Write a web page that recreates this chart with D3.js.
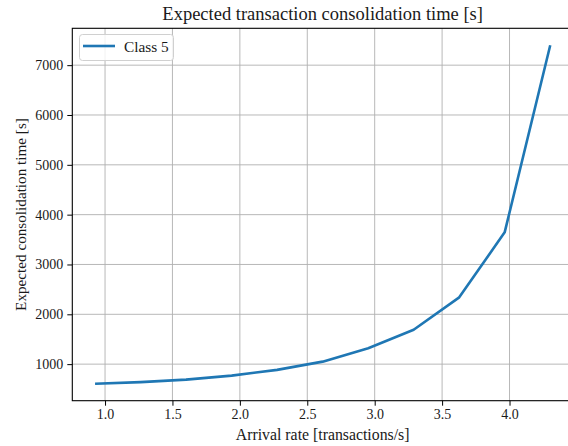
<!DOCTYPE html>
<html>
<head>
<meta charset="utf-8">
<script src="https://cdn.jsdelivr.net/npm/d3@7/dist/d3.min.js"></script>
<style>
  html, body { margin: 0; padding: 0; background: #fff; overflow: hidden; }
  svg { display: block; }
  text { font-family: "Palatino Linotype", "Book Antiqua", Palatino, "Liberation Serif", serif; fill: #1a1a1a; }
</style>
</head>
<body>
<svg id="chart" width="568" height="446"></svg>
<script>
// Arrival rates (transactions/s) and expected consolidation time (s) for Class 5
const arrivalRate = [0.926, 1.264, 1.601, 1.939, 2.276, 2.614, 2.952, 3.289, 3.627, 3.964, 4.302];
const class5Time  = [606, 640, 690, 770, 885, 1050, 1320, 1690, 2340, 3645, 7400];
const xTicks = [1.0, 1.5, 2.0, 2.5, 3.0, 3.5, 4.0];
const yTicks = [1000, 2000, 3000, 4000, 5000, 6000, 7000];
const seriesName = "Class 5";
const titleText = "Expected transaction consolidation time [s]";
const xLabel = "Arrival rate [transactions/s]";
const yLabel = "Expected consolidation time [s]";

const svg = d3.select("#chart");
const plot = { left: 72.3, top: 28.3, right: 573, bottom: 400.7 };

// matplotlib-style 5% padding around the data extent
const pad = (ext) => { const d = (ext[1] - ext[0]) * 0.05; return [ext[0] - d, ext[1] + d]; };
const x = d3.scaleLinear().domain(pad(d3.extent(arrivalRate))).range([plot.left, plot.right]);
const y = d3.scaleLinear().domain(pad(d3.extent(class5Time))).range([plot.bottom, plot.top]);

const grid = svg.append("g").attr("stroke", "#b0b0b0").attr("stroke-width", 0.9);
grid.selectAll("line.gx").data(xTicks).join("line")
  .attr("x1", d => x(d)).attr("x2", d => x(d))
  .attr("y1", plot.top).attr("y2", plot.bottom);
grid.selectAll("line.gy").data(yTicks).join("line")
  .attr("x1", plot.left).attr("x2", plot.right)
  .attr("y1", d => y(d)).attr("y2", d => y(d));

// Data line
const pts = arrivalRate.map((v, i) => [v, class5Time[i]]);
svg.append("path")
  .datum(pts)
  .attr("fill", "none")
  .attr("stroke", "#1f77b4")
  .attr("stroke-width", 2.6)
  .attr("stroke-linejoin", "round")
  .attr("d", d3.line().x(d => x(d[0])).y(d => y(d[1])));

// Axes
const xAxis = d3.axisBottom(x).tickValues(xTicks).tickFormat(d3.format(".1f")).tickSizeOuter(0).tickSize(5).tickPadding(3);
const yAxis = d3.axisLeft(y).tickValues(yTicks).tickFormat(d3.format("d")).tickSizeOuter(0).tickSize(5).tickPadding(4);

const gx = svg.append("g").attr("transform", `translate(0,${plot.bottom})`).call(xAxis);
const gy = svg.append("g").attr("transform", `translate(${plot.left},0)`).call(yAxis);
[gx, gy].forEach(g => {
  g.select(".domain").remove();
  g.selectAll(".tick line").attr("stroke", "#000").attr("stroke-width", 1);
  g.selectAll(".tick text").attr("font-size", 14).attr("fill", "#1a1a1a");
});

// Spines
svg.append("rect")
  .attr("x", plot.left).attr("y", plot.top)
  .attr("width", plot.right - plot.left).attr("height", plot.bottom - plot.top)
  .attr("fill", "none").attr("stroke", "#000").attr("stroke-width", 1.1);

// Title and axis labels
svg.append("text")
  .attr("x", (plot.left + plot.right) / 2).attr("y", 20)
  .attr("text-anchor", "middle").attr("font-size", 18.5)
  .text(titleText);
svg.append("text")
  .attr("x", (plot.left + plot.right) / 2).attr("y", 440)
  .attr("text-anchor", "middle").attr("font-size", 15.8)
  .text(xLabel);
svg.append("text")
  .attr("transform", `translate(26,${(plot.top + plot.bottom) / 2}) rotate(-90)`)
  .attr("text-anchor", "middle").attr("font-size", 15.2)
  .text(yLabel);

// Legend
const lg = svg.append("g").attr("transform", "translate(79.5,34.5)");
lg.append("rect")
  .attr("width", 94).attr("height", 26).attr("rx", 3)
  .attr("fill", "#fff").attr("fill-opacity", 0.8)
  .attr("stroke", "#d0d0d0").attr("stroke-width", 1);
lg.append("line")
  .attr("x1", 3.5).attr("x2", 35.5).attr("y1", 11.5).attr("y2", 11.5)
  .attr("stroke", "#1f77b4").attr("stroke-width", 2.6);
lg.append("text")
  .attr("x", 44.5).attr("y", 17.5)
  .attr("font-size", 15.3)
  .text(seriesName);
</script>
</body>
</html>
